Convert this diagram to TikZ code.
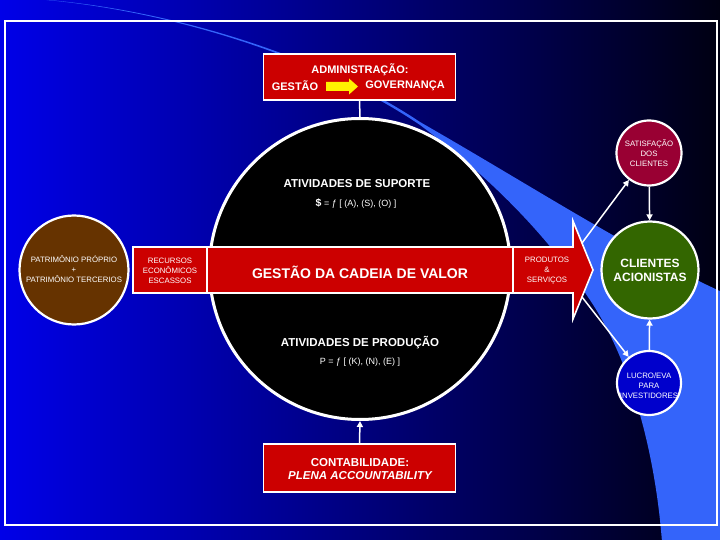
\documentclass[tikz,border=0pt]{standalone}
\usepackage{fontspec}
\setmainfont{Liberation Sans}
\usetikzlibrary{arrows.meta}
\definecolor{bgL}{RGB}{0,0,232}
\definecolor{bgR}{RGB}{0,0,18}
\definecolor{bandc}{RGB}{52,100,250}
\definecolor{redbox}{RGB}{204,0,0}
\definecolor{brownc}{RGB}{102,51,0}
\definecolor{satc}{RGB}{153,0,51}
\definecolor{clic}{RGB}{51,102,0}
\definecolor{lucc}{RGB}{0,0,204}
\begin{document}
\begin{tikzpicture}[x=1pt,y=-1pt,
  wbox/.style={draw=white, line width=1.6pt, fill=redbox, inner sep=0pt},
  wcirc/.style={circle, draw=white, line width=2.2pt, inner sep=0pt},
  txt/.style={text=white, align=center, inner sep=0pt},
  small/.style={txt, font=\fontsize{7.8}{10}\selectfont},
  conn/.style={draw=white, line width=1.5pt},
  tipped/.style={conn, -{Triangle[width=6pt,length=6pt]}}]
\useasboundingbox (0,0) rectangle (720,540);
% background
\shade[left color=bgL, right color=bgR] (0,0) rectangle (720,540);
% swoosh band
\fill[bandc] (20,-2) .. controls (160,5) and (320,55) .. (420,122)
  .. controls (530,185) and (630,250) .. (722,292) -- (722,542) -- (662,542)
  .. controls (655,450) and (630,360) .. (590,300)
  .. controls (540,225) and (480,170) .. (420,125)
  .. controls (320,57) and (160,6) .. (20,-2) -- cycle;
% frame
\draw[white, line width=1.2pt] (5,21) rectangle (717,525);

% central circle
\node[circle, fill=black, draw=white, line width=3pt, minimum size=301pt, inner sep=0pt] (circ) at (360,269) {};

% administration box
\node[wbox, minimum width=192pt, minimum height=46pt] (admin) at (359.5,77) {};
\node[txt, font=\bfseries\fontsize{11}{13}\selectfont] (admT1) at (360,69.5) {ADMINISTRAÇÃO:};
\node[txt, font=\bfseries\fontsize{11}{13}\selectfont] (admT2) at (295,86) {GESTÃO};
\node[txt, font=\bfseries\fontsize{11}{13}\selectfont] (admT3) at (405,86) {GOVERNANÇA};
\fill[yellow] (326,82) -- (349,82) -- (349,78.5) -- (358,86.5) -- (349,94.5) -- (349,91) -- (326,91) -- cycle;
\draw[conn] (admin.south) -- (circ.north);

% accounting box
\node[wbox, minimum width=192pt, minimum height=48pt] (cont) at (359.5,468) {};
\node[txt, font=\bfseries\fontsize{11.5}{13.5}\selectfont] (contT) at (360,469)
  {CONTABILIDADE:\\\itshape PLENA ACCOUNTABILITY};
\draw[tipped] (cont.north) -- (circ.south);

% texts inside circle
\node[txt, font=\bfseries\fontsize{11.5}{13}\selectfont] (supT) at (357,184) {ATIVIDADES DE SUPORTE};
\node[txt, font=\fontsize{9}{11}\selectfont] (supF) at (356,204) {{\bfseries\fontsize{10.5}{11}\selectfont\$} = ƒ [ (A), (S), (O) ]};
\node[txt, font=\bfseries\fontsize{11.5}{13}\selectfont] (proT) at (360,343) {ATIVIDADES DE PRODUÇÃO};
\node[txt, font=\fontsize{9}{11}\selectfont] (proF) at (360,362) {P = ƒ [ (K), (N), (E) ]};

% red bar
\node[wbox, minimum width=74pt, minimum height=46pt] (res) at (170,270) {};
\node[small] (resT) at (170,270.5) {RECURSOS\\ECONÔMICOS\\ESCASSOS};
\node[wbox, minimum width=306pt, minimum height=46pt] (gcv) at (360,270) {};
\node[txt, font=\bfseries\fontsize{14}{16}\selectfont] (gcvT) at (360,272) {GESTÃO DA CADEIA DE VALOR};
\draw[wbox] (513,247) -- (573,247) -- (573,221) -- (593,270) -- (573,319) -- (573,293) -- (513,293) -- cycle;
\node[small] (prodT) at (547,270.5) {PRODUTOS\\\&\\SERVIÇOS};
\coordinate (s1) at (582,243);
\coordinate (s2) at (582,297);

% brown circle
\node[wcirc, fill=brownc, minimum size=109pt] (pat) at (74,270) {};
\node[small] (patT) at (74,269.5) {PATRIMÔNIO PRÓPRIO\\+\\PATRIMÔNIO TERCERIOS};

% right circles
\node[wcirc, fill=satc, minimum size=65pt] (sat) at (649,153) {};
\node[small] (satT) at (649,153) {SATISFAÇÃO\\DOS\\CLIENTES};
\node[wcirc, fill=clic, minimum size=97pt] (cli) at (650,270) {};
\node[txt, font=\bfseries\fontsize{12}{14}\selectfont] (cliT) at (650,270) {CLIENTES\\ACIONISTAS};
\node[wcirc, fill=lucc, minimum size=64pt] (luc) at (649,383) {};
\node[small] (lucT) at (649,386) {LUCRO/EVA\\PARA\\INVESTIDORES};

% connectors
\draw[tipped] (s1) -- (sat);
\draw[tipped] (s2) -- (luc);
\draw[tipped] (sat) -- (cli);
\draw[tipped] (luc) -- (cli);
\end{tikzpicture}
\end{document}
